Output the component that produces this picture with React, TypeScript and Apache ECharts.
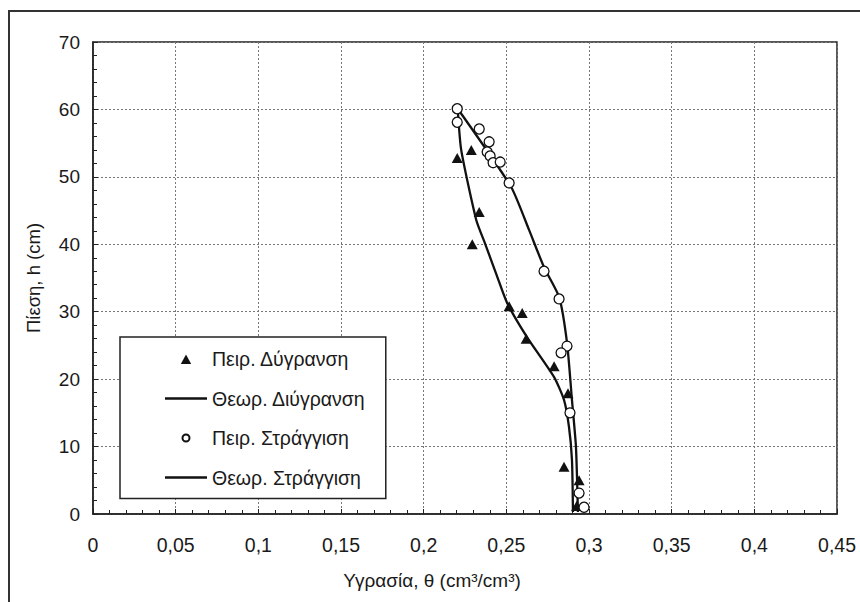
import React, { useEffect, useRef } from "react";
import * as echarts from "echarts";

const xTicks = [0, 0.05, 0.1, 0.15, 0.2, 0.25, 0.3, 0.35, 0.4, 0.45];
const yTicks = [0, 10, 20, 30, 40, 50, 60, 70];

const seriesNames = [
  "Πειρ. Δύγρανση",
  "Θεωρ. Διύγρανση",
  "Πειρ. Στράγγιση",
  "Θεωρ. Στράγγιση",
];

// Πειρ. Δύγρανση (measured wetting): [θ, h]
const wettingObs: [number, number][] = [
  [0.2203, 52.8],
  [0.2288, 54.0],
  [0.2336, 44.8],
  [0.2294, 40.0],
  [0.2517, 30.8],
  [0.2596, 29.8],
  [0.262, 26.0],
  [0.2789, 21.9],
  [0.2873, 17.9],
  [0.2849, 7.0],
  [0.294, 5.0],
  [0.2925, 1.2],
];

// Θεωρ. Διύγρανση (theoretical wetting)
const wettingFit: [number, number][] = [
  [0.2206, 60.1],
  [0.2227, 54.0],
  [0.2318, 43.6],
  [0.2373, 40.0],
  [0.2442, 35.4],
  [0.2505, 31.3],
  [0.2626, 26.2],
  [0.2789, 20.3],
  [0.2849, 16.9],
  [0.2879, 12.9],
  [0.2897, 8.0],
  [0.2903, 0.3],
];

// Πειρ. Στράγγιση (measured drainage)
const drainageObs: [number, number][] = [
  [0.2203, 60.1],
  [0.2203, 58.1],
  [0.2336, 57.1],
  [0.2396, 55.2],
  [0.2384, 53.7],
  [0.2402, 53.1],
  [0.242, 52.1],
  [0.2463, 52.2],
  [0.2517, 49.1],
  [0.2728, 36.0],
  [0.2819, 31.9],
  [0.2867, 24.9],
  [0.2831, 23.9],
  [0.2885, 15.0],
  [0.294, 3.1],
  [0.297, 1.0],
];

// Θεωρ. Στράγγιση (theoretical drainage)
const drainageFit: [number, number][] = [
  [0.2206, 60.1],
  [0.2529, 48.5],
  [0.2638, 42.1],
  [0.2728, 36.6],
  [0.2819, 32.2],
  [0.2867, 25.4],
  [0.2897, 16.9],
  [0.2921, 10.0],
  [0.2933, 0.3],
];

const fmt = (v: number) => String(v).replace(".", ",");

export default function App() {
  const ref = useRef<HTMLDivElement>(null);
  useEffect(() => {
    if (!ref.current) return;
    const chart = echarts.init(ref.current, undefined, { renderer: "svg" });
    const font = "'Liberation Sans', Arial, sans-serif";
    const ink = "#1a1a1a";
    const lineIcon = "path://M0,0 M42,14 M0,5.8 L42,5.8 L42,8.2 L0,8.2 Z";
    chart.setOption({
      animation: false,
      backgroundColor: "#ffffff",
      textStyle: { fontFamily: font, color: ink },
      grid: {
        left: 93,
        top: 42,
        width: 744,
        height: 472,
        show: true,
        borderColor: "#222",
        borderWidth: 1.5,
        containLabel: false,
      },
      xAxis: {
        type: "value",
        min: xTicks[0],
        max: xTicks[xTicks.length - 1],
        interval: 0.05,
        name: "Υγρασία, θ (cm³/cm³)",
        nameLocation: "middle",
        nameGap: 57,
        nameTextStyle: {
          fontSize: 19,
          color: ink,
          fontFamily: font,
          padding: [0, 66, 0, 0],
          verticalAlign: "top",
        },
        axisLine: { show: true, lineStyle: { color: "#222", width: 1.5 } },
        axisTick: { show: true, inside: true, length: 5, lineStyle: { color: "#222" } },
        minorTick: { show: true, splitNumber: 5, length: 4, lineStyle: { color: "#222" } },
        axisLabel: {
          formatter: (v: number) => fmt(Math.round(v * 100) / 100),
          fontSize: 19.5,
          color: ink,
          margin: 21,
          fontFamily: font,
        },
        splitLine: { show: true, lineStyle: { color: "#777", type: [2, 2], width: 1 } },
      },
      yAxis: {
        type: "value",
        min: yTicks[0],
        max: yTicks[yTicks.length - 1],
        interval: 10,
        name: "Πίεση, h (cm)",
        nameLocation: "middle",
        nameGap: 50,
        nameTextStyle: { fontSize: 18.5, color: ink, fontFamily: font },
        axisLine: { show: true, lineStyle: { color: "#222", width: 1.5 } },
        axisTick: { show: true, inside: true, length: 5, lineStyle: { color: "#222" } },
        minorTick: { show: true, splitNumber: 5, length: 4, lineStyle: { color: "#222" } },
        axisLabel: { fontSize: 19, color: ink, margin: 13, fontFamily: font },
        splitLine: { show: true, lineStyle: { color: "#777", type: [2, 2], width: 1 } },
      },
      legend: {
        orient: "vertical",
        left: 120,
        top: 337,
        padding: [12, 20, 11, 45],
        itemGap: 19.5,
        itemWidth: 42,
        itemHeight: 14,
        borderColor: "#222",
        borderWidth: 1.5,
        backgroundColor: "#fff",
        textStyle: { fontSize: 19.5, color: ink, fontFamily: font },
        data: [
          {
            name: seriesNames[0],
            icon: "path://M0,0 M14,14 M1.8,12 L7,2.5 L12.2,12 Z",
          },
          { name: seriesNames[1], icon: lineIcon },
          {
            name: seriesNames[2],
            icon: "path://M0,0 M14,14 M10.5,7 A3.5,3.5 0 1 1 3.5,7 A3.5,3.5 0 1 1 10.5,7 Z",
          },
          { name: seriesNames[3], icon: lineIcon },
        ],
      },
      graphic: [
        {
          type: "rect",
          shape: { x: 9, y: 11, width: 900, height: 700 },
          style: { fill: "none", stroke: "#333", lineWidth: 2 },
          silent: true,
          z: -1,
        },
      ],
      series: [
        {
          name: seriesNames[1],
          type: "line",
          data: wettingFit,
          smooth: 0.2,
          showSymbol: false,
          symbol: "none",
          lineStyle: { color: "#111", width: 2.3 },
          itemStyle: { color: "#111" },
          z: 2,
        },
        {
          name: seriesNames[3],
          type: "line",
          data: drainageFit,
          smooth: 0.2,
          showSymbol: false,
          symbol: "none",
          lineStyle: { color: "#111", width: 2.3 },
          itemStyle: { color: "#111" },
          z: 2,
        },
        {
          name: seriesNames[0],
          type: "scatter",
          data: wettingObs,
          symbol: "triangle",
          symbolSize: [11, 10],
          itemStyle: { color: "#111", opacity: 1 },
          z: 3,
        },
        {
          name: seriesNames[2],
          type: "scatter",
          data: drainageObs,
          symbol: "circle",
          symbolSize: 10,
          itemStyle: { color: "#fff", borderColor: "#111", borderWidth: 1.3, opacity: 1 },
          z: 4,
        },
      ],
    });
    return () => chart.dispose();
  }, []);
  return (
    <div
      ref={ref}
      style={{ position: "absolute", left: 0, top: 0, width: 860, height: 602 }}
    />
  );
}
